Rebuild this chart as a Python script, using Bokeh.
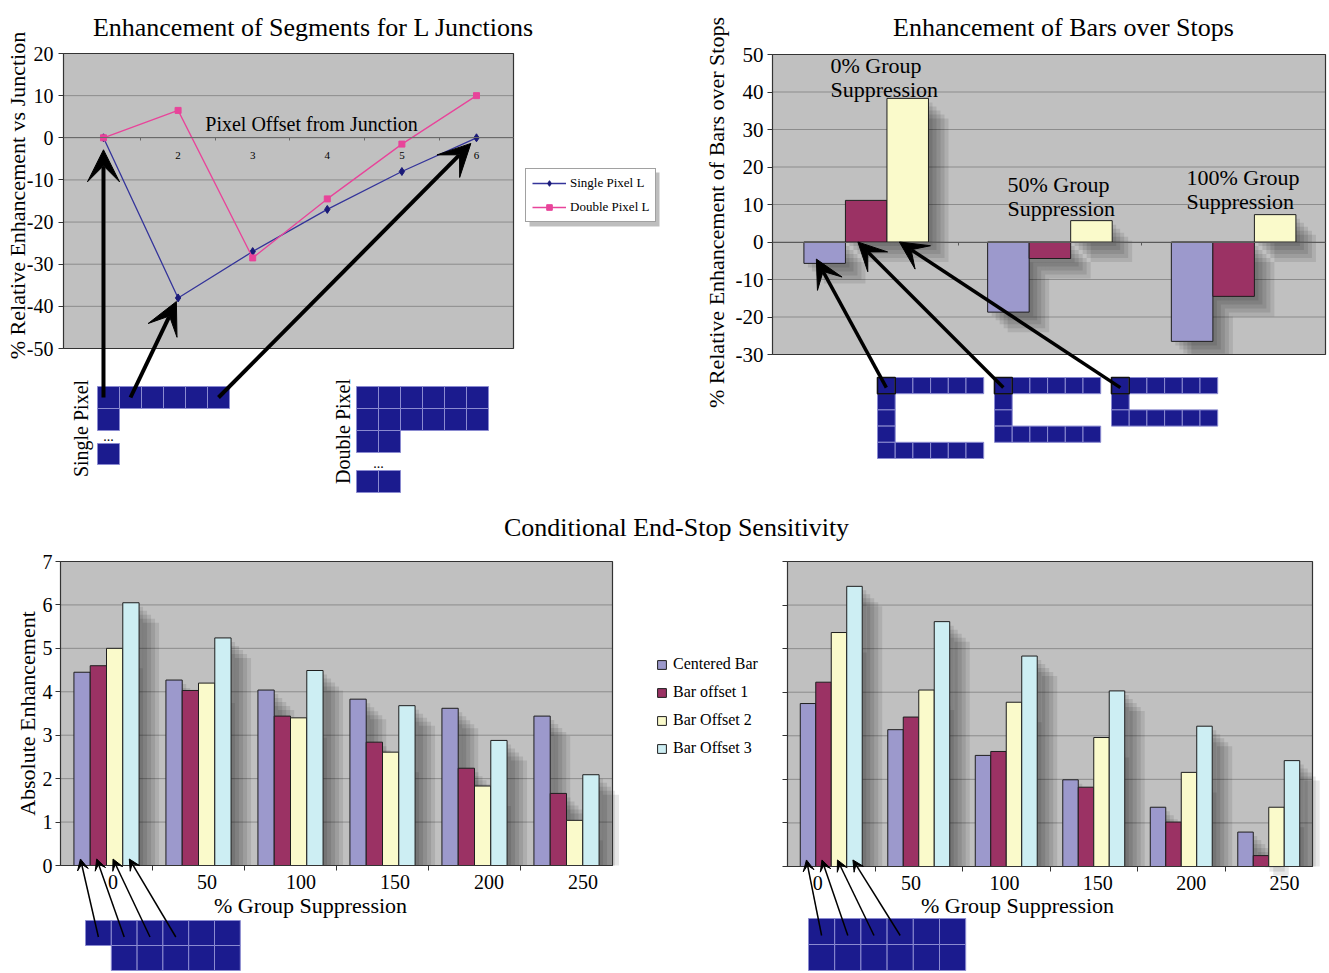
import math
from bokeh.plotting import figure
from bokeh.models import (Range1d, LinearAxis, FixedTicker, Legend, LegendItem,
                          Arrow, VeeHead, ColumnDataSource)
from bokeh.core.properties import value
from bokeh.embed import file_html
from bokeh.resources import INLINE

# ---------------- data ----------------
pixel_offset = [1, 2, 3, 4, 5, 6]
single_pixel_l = [0, -38, -27, -17, -8, 0]
double_pixel_l = [0, 6.5, -28.5, -14.5, -1.5, 10]

stop_groups = ["0% Group", "50% Group", "100% Group"]
stop_centered = [-5.7, -18.7, -26.5]
stop_offset1 = [11.1, -4.4, -14.5]
stop_offset2 = [38.3, 5.7, 7.3]

suppression = ["0", "50", "100", "150", "200", "250"]
series_names = ["Centered Bar", "Bar offset 1", "Bar Offset 2", "Bar Offset 3"]
left_centered = [4.45, 4.27, 4.04, 3.83, 3.62, 3.44]
left_offset1 = [4.60, 4.03, 3.44, 2.84, 2.24, 1.66]
left_offset2 = [5.00, 4.20, 3.40, 2.61, 1.83, 1.04]
left_offset3 = [6.05, 5.24, 4.49, 3.68, 2.88, 2.09]
right_centered = [3.74, 3.14, 2.55, 1.99, 1.36, 0.79]
right_offset1 = [4.23, 3.43, 2.64, 1.82, 1.02, 0.25]
right_offset2 = [5.37, 4.05, 3.77, 2.96, 2.16, 1.36]
right_offset3 = [6.43, 5.62, 4.83, 4.03, 3.22, 2.43]

# ---------------- style ----------------
FONT = "Liberation Serif"
LAV, MAR, YEL, CYA = "#9c99cc", "#9b3264", "#fafacb", "#cdeef3"
GRAY_BG, GRID, BORDER = "#c0c0c0", "#8c8c8c", "#333333"
NAVY_SQ, SQ_LINE = "#1b1b8e", "#8a8ad0"
NAVY_LINE, NAVY_MARK, PINK = "#34349a", "#1a1a78", "#e8449a"

W, H = 1328, 972
CX0, CX1, CY0, CY1 = 0, W, 0, H

p = figure(width=W, height=H, x_range=Range1d(CX0, CX1), y_range=Range1d(CY1, CY0),
           x_axis_type=None, y_axis_type=None, output_backend="svg",
           toolbar_location=None, min_border=0)
p.outline_line_color = None
p.background_fill_color = "white"
p.border_fill_color = "white"


class Chart:
    def __init__(self, name, px, dx, py, dy):
        self.rx, self.ry = name + "_x", name + "_y"
        self.px, self.dx, self.py, self.dy = px, dx, py, dy
        self.kx = (px[1] - px[0]) / (dx[1] - dx[0])
        self.ky = (py[0] - py[1]) / (dy[1] - dy[0])

    def x2d(self, sx):
        return self.dx[0] + (sx - self.px[0]) / self.kx

    def y2d(self, sy):
        return self.dy[0] + (self.py[0] - sy) / self.ky

    def d2x(self, x):
        return self.px[0] + (x - self.dx[0]) * self.kx

    def d2y(self, y):
        return self.py[0] - (y - self.dy[0]) * self.ky

    def kw(self):
        return dict(x_range_name=self.rx, y_range_name=self.ry)


tl = Chart("tl", (63, 513), (0.464, 6.496), (348, 53), (-50, 20))
tr = Chart("tr", (772, 1325), (-0.51, 2.5), (354, 54), (-30, 50))
bl = Chart("bl", (60, 612), (-0.5, 5.5), (865, 561), (0, 7))
br = Chart("br", (787, 1312), (-0.5, 5.5), (866, 561), (0, 7))
charts = [tl, tr, bl, br]
p.extra_x_ranges = {c.rx: Range1d(c.x2d(CX0), c.x2d(CX1)) for c in charts}
p.extra_y_ranges = {c.ry: Range1d(c.y2d(CY1), c.y2d(CY0)) for c in charts}


def txt(x, y, s, size, align="center", baseline="middle", angle=0.0):
    p.text(x=[x], y=[y], text=[s], text_font=value(FONT), text_font_size=f"{size}px",
           text_align=align, text_baseline=baseline, angle=angle, text_color="black")


def panel(c, yticks):
    p.quad(left=[c.dx[0]], right=[c.dx[1]], bottom=[c.dy[0]], top=[c.dy[1]],
           fill_color=GRAY_BG, line_color=None, **c.kw())
    inner = [t for t in yticks if c.dy[0] < t < c.dy[1]]
    p.segment(x0=[c.dx[0]] * len(inner), x1=[c.dx[1]] * len(inner), y0=inner, y1=inner,
              line_color=GRID, line_width=1, **c.kw())


def frame(c):
    p.quad(left=[c.dx[0]], right=[c.dx[1]], bottom=[c.dy[0]], top=[c.dy[1]],
           fill_color=None, line_color=BORDER, line_width=1.2, **c.kw())


def yaxis(c, ticks, size, labels=True, standoff=4):
    ax = LinearAxis(x_range_name=c.rx, y_range_name=c.ry, fixed_location=c.dx[0],
                    bounds=(c.dy[0], c.dy[1]), ticker=FixedTicker(ticks=ticks),
                    major_label_overrides={t: (str(t) if labels else "") for t in ticks},
                    major_tick_out=5, major_tick_in=0, minor_tick_out=0, minor_tick_in=0,
                    axis_line_color=None, major_tick_line_color=BORDER,
                    major_label_standoff=standoff, major_label_text_font=FONT,
                    major_label_text_font_size=f"{size}px", major_label_text_color="black")
    p.add_layout(ax, "left")


def xaxis(c, ticks, labels, minor, size, standoff=4, tick_out=5, line_color=BORDER):
    ax = LinearAxis(x_range_name=c.rx, y_range_name=c.ry, fixed_location=0,
                    bounds=(c.dx[0], c.dx[1]),
                    ticker=FixedTicker(ticks=ticks, minor_ticks=minor),
                    major_label_overrides={t: l for t, l in zip(ticks, labels)},
                    major_tick_out=0, major_tick_in=0, minor_tick_out=tick_out, minor_tick_in=0,
                    axis_line_color=line_color, minor_tick_line_color=line_color,
                    major_label_standoff=standoff, major_label_text_font=FONT,
                    major_label_text_font_size=f"{size}px", major_label_text_color="black")
    p.add_layout(ax, "below")


def bars(c, series, colors, width, floor):
    n = len(series)
    shadow_offsets = [4, 8, 12, 16, 20]
    for j, vals in enumerate(series):
        xs = [i + (j - (n - 1) / 2) * width for i in range(len(vals))]
        for off in shadow_offsets:
            dxu, dyu = off / c.kx, off / c.ky
            p.quad(left=[x - width / 2 + dxu for x in xs], right=[x + width / 2 + dxu for x in xs],
                   top=[max(v, 0) - dyu for v in vals],
                   bottom=[max(min(v, 0) - dyu, floor) for v in vals],
                   fill_color="black", fill_alpha=0.095, line_color=None, **c.kw())
    rends = []
    for j, vals in enumerate(series):
        xs = [i + (j - (n - 1) / 2) * width for i in range(len(vals))]
        src = ColumnDataSource(dict(x=xs, top=vals))
        r = p.vbar(x="x", top="top", bottom=0, width=width, source=src, fill_color=colors[j],
                   line_color="#1e1e1e", line_width=1, **c.kw())
        rends.append(r)
    return rends


def pixel_grid(ox, oy, cw, ch, mask, outline_first=False):
    L, R, T, B = [], [], [], []
    for r, row in enumerate(mask):
        for k, ch_ in enumerate(row):
            if ch_ == "#":
                L.append(ox + k * cw)
                R.append(ox + (k + 1) * cw)
                T.append(oy + r * ch)
                B.append(oy + (r + 1) * ch)
    p.quad(left=L, right=R, top=T, bottom=B, fill_color=NAVY_SQ, line_color=SQ_LINE, line_width=1)
    if outline_first:
        p.quad(left=[ox], right=[ox + cw], top=[oy], bottom=[oy + ch], fill_color=None,
               line_color="#111111", line_width=1.6)


def cell_center(ox, oy, cw, ch, r, k):
    return ox + (k + 0.5) * cw, oy + (r + 0.5) * ch


def arrow(x0, y0, x1, y1, lw, size, gap=0.0):
    d = math.hypot(x1 - x0, y1 - y0)
    ex, ey = x1 - (x1 - x0) / d * gap, y1 - (y1 - y0) / d * gap
    p.add_layout(Arrow(end=VeeHead(size=size, fill_color="black", line_color="black"),
                       x_start=x0, y_start=y0, x_end=ex, y_end=ey,
                       line_width=lw, line_color="black"))


# ---------------- top-left: L junctions ----------------
panel(tl, list(range(-50, 21, 10)))
src_s = ColumnDataSource(dict(x=pixel_offset, y=single_pixel_l))
src_d = ColumnDataSource(dict(x=pixel_offset, y=double_pixel_l))
l1 = p.line("x", "y", source=src_s, line_color=NAVY_LINE, line_width=1.3, **tl.kw())
m1 = p.scatter("x", "y", source=src_s, marker="diamond", size=8, fill_color=NAVY_MARK,
               line_color=NAVY_MARK, **tl.kw())
l2 = p.line("x", "y", source=src_d, line_color=PINK, line_width=1.3, **tl.kw())
m2 = p.scatter("x", "y", source=src_d, marker="square", size=6, fill_color=PINK,
               line_color=PINK, **tl.kw())
frame(tl)
yaxis(tl, list(range(-50, 21, 10)), 20, standoff=5)
xaxis(tl, [2, 3, 4, 5, 6], ["2", "3", "4", "5", "6"], [1.5, 2.5, 3.5, 4.5, 5.5], 11,
      standoff=11, tick_out=3, line_color="#6a6a6a")
txt(313, 27, "Enhancement of Segments for L Junctions", 26)
txt(17, 195, "% Relative Enhancement vs Junction", 22, angle=math.pi / 2)
txt(311, 123, "Pixel Offset from Junction", 20)

p.quad(left=[529], right=[659], top=[172], bottom=[226], fill_color="#6e6e6e", fill_alpha=0.45,
       line_color=None)
leg1 = Legend(items=[LegendItem(label="Single Pixel L", renderers=[l1, m1]),
                     LegendItem(label="Double Pixel L", renderers=[l2, m2])],
              location=(525 - CX0, CY1 - 222), orientation="vertical",
              border_line_color="#444444", border_line_width=1,
              background_fill_color="white", background_fill_alpha=1.0,
              label_text_font=FONT, label_text_font_size="13px", label_text_color="black",
              glyph_width=34, glyph_height=14, label_standoff=4, padding=6, spacing=8,
              margin=0, label_height=16)
p.add_layout(leg1, "center")

# pixel diagrams (top-left)
SP_OX, SP_OY, SP_C = 97, 386, 22
pixel_grid(SP_OX, SP_OY, SP_C, SP_C, ["######", "#....."])
pixel_grid(SP_OX, 443, SP_C, 21, ["#"])
txt(108, 435, "...", 14)
txt(80, 428, "Single Pixel", 20, angle=math.pi / 2)
pixel_grid(356, 386, 22, 22, ["######", "######", "##...."])
pixel_grid(356, 470, 22, 22, ["##"])
txt(378, 462, "...", 14)
txt(342, 431, "Double Pixel", 20, angle=math.pi / 2)

sx, sy = cell_center(SP_OX, SP_OY, SP_C, SP_C, 0, 0)
arrow(tl.d2x(pixel_offset[0]), sy, tl.d2x(pixel_offset[0]), tl.d2y(single_pixel_l[0]), 4, 32, gap=12)
sx, sy = cell_center(SP_OX, SP_OY, SP_C, SP_C, 0, 1)
arrow(sx, sy, tl.d2x(pixel_offset[1]), tl.d2y(single_pixel_l[1]), 4, 32, gap=4)
sx, sy = cell_center(SP_OX, SP_OY, SP_C, SP_C, 0, 5)
arrow(sx, sy, tl.d2x(pixel_offset[5]), tl.d2y(single_pixel_l[5]), 4, 32, gap=8)

# ---------------- top-right: bars over stops ----------------
panel(tr, list(range(-30, 51, 10)))
TR_W = 0.226
tr_r = bars(tr, [stop_centered, stop_offset1, stop_offset2], [LAV, MAR, YEL], TR_W, -30)
frame(tr)
yaxis(tr, list(range(-30, 51, 10)), 21, standoff=4)
xaxis(tr, [], [], [0.5, 1.5], 10, tick_out=3, line_color="#5a5a5a")
txt(1063, 27, "Enhancement of Bars over Stops", 26)
txt(716, 212, "% Relative Enhancement of Bars over Stops", 22, angle=math.pi / 2)
for (gx, gy), g in zip([(830, 65), (1007, 184), (1186, 177)], stop_groups):
    txt(gx, gy, g, 22, align="left")
    txt(gx, gy + 24, "Suppression", 22, align="left")

C_W, C_H = 17.7, 16.2
c_shapes = [["######", "#.....", "#.....", "#.....", "######"],
            ["######", "#.....", "#.....", "######"],
            ["######", "#.....", "######"]]
c_origins = [877, 994, 1111]
for j, (ox, mask) in enumerate(zip(c_origins, c_shapes)):
    pixel_grid(ox, 377, C_W, C_H, mask, outline_first=True)
    sx, sy = cell_center(ox, 377, C_W, C_H, 0, 0)
    vals = [stop_centered, stop_offset1, stop_offset2][j]
    bx = 0 + (j - 1) * TR_W - TR_W / 2 + 0.3 * TR_W
    arrow(sx, sy + 2, tr.d2x(bx), tr.d2y(min(vals[0], 0) * 0.8), 3.5, 28)

# ---------------- bottom: conditional end-stop sensitivity ----------------
txt(676, 527, "Conditional End-Stop Sensitivity", 26)
B_W = 0.177
cols4 = [LAV, MAR, YEL, CYA]
# category-label placement (the original's labels drift slightly from the group centres)
label_layout = {"bl": (0.07, 1.022), "br": (-0.155, 1.067)}
for name, c, series in [("bl", bl, [left_centered, left_offset1, left_offset2, left_offset3]),
                        ("br", br, [right_centered, right_offset1, right_offset2, right_offset3])]:
    panel(c, list(range(0, 8)))
    rs = bars(c, series, cols4, B_W, 0)
    frame(c)
    yaxis(c, list(range(0, 8)), 20, labels=(c is bl), standoff=3)
    shift, step = label_layout[name]
    lab_ticks = [round(shift + i * step, 4) for i in range(len(suppression))]
    xaxis(c, lab_ticks, suppression, [0.5, 1.5, 2.5, 3.5, 4.5], 20, standoff=4, tick_out=5)
    if c is bl:
        bl_rends = rs
txt(27, 713, "Absolute Enhancement", 22, angle=math.pi / 2)
txt(310, 905, "% Group Suppression", 22)
txt(1017, 905, "% Group Suppression", 22)

leg2 = Legend(items=[LegendItem(label=n, renderers=[r]) for n, r in zip(series_names, bl_rends)],
              location=(656 - CX0, CY1 - 758), orientation="vertical",
              border_line_color=None, background_fill_alpha=0.0,
              label_text_font=FONT, label_text_font_size="16px", label_text_color="black",
              glyph_width=11, glyph_height=11, label_standoff=6, padding=0, spacing=8,
              margin=0, label_height=20)
p.add_layout(leg2, "center")

# pixel diagrams (bottom)
for c, ox, oy, cw, chh, mask in [
        (bl, 85, 920, 25.8, 25, ["######", ".#####"]),
        (br, 808, 918, 26.2, 26, ["######", "######"])]:
    pixel_grid(ox, oy, cw, chh, mask)
    for j in range(4):
        sx, sy = cell_center(ox, oy, cw, chh, 0, j)
        bx = 0 + (j - 1.5) * B_W - B_W / 2 + 0.4 * B_W
        arrow(sx, sy + 4, c.d2x(bx), c.d2y(0.15), 1.5, 11)

open("out.html", "w").write(file_html(p, INLINE))
